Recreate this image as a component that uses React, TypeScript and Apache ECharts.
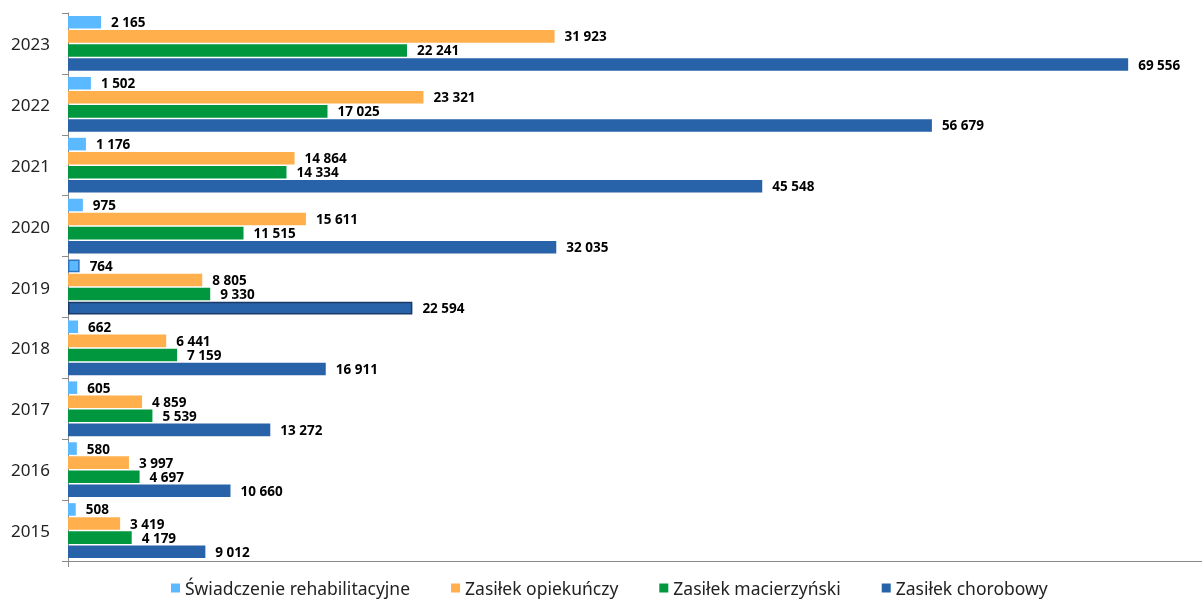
import React, { useEffect, useRef } from "react";
import * as echarts from "echarts";

const years = ["2015", "2016", "2017", "2018", "2019", "2020", "2021", "2022", "2023"];
const rehab = [508, 580, 605, 662, 764, 975, 1176, 1502, 2165];
const opiekunczy = [3419, 3997, 4859, 6441, 8805, 15611, 14864, 23321, 31923];
const macierzynski = [4179, 4697, 5539, 7159, 9330, 11515, 14334, 17025, 22241];
const chorobowy = [9012, 10660, 13272, 16911, 22594, 32035, 45548, 56679, 69556];
const seriesNames = ["Świadczenie rehabilitacyjne", "Zasiłek opiekuńczy", "Zasiłek macierzyński", "Zasiłek chorobowy"];
const colors = ["#5BB9FF", "#FFB04D", "#00973F", "#2862A8"];

const fmt = (v: number) => String(v).replace(/\B(?=(\d{3})+(?!\d))/g, " ");

export default function App() {
  const ref = useRef<HTMLDivElement>(null);
  useEffect(() => {
    if (!ref.current) return;
    const chart = echarts.init(ref.current, undefined, { renderer: "svg" });
    const allData = [rehab, opiekunczy, macierzynski, chorobowy];
    const highlightBorder = ["#2E74C0", null, null, "#1B3B66"];
    chart.setOption({
      animation: false,
      textStyle: { fontFamily: "Noto Sans" },
      grid: { left: 68, right: 0, top: 13, bottom: 38 },
      legend: {
        data: seriesNames,
        left: 171,
        top: 578,
        padding: 0,
        itemWidth: 9,
        itemHeight: 9,
        itemGap: 41,
        icon: "rect",
        textStyle: { fontSize: 17.5, lineHeight: 20, color: "#222", fontFamily: "Noto Sans", padding: [0, 0, 0, 0] },
      },
      xAxis: {
        type: "value",
        min: 0,
        max: 74400,
        splitLine: { show: false },
        axisLabel: { show: false },
        axisLine: { show: true, lineStyle: { color: "#8A8A8A", width: 1 } },
        axisTick: { show: true, customValues: [0], length: 6, lineStyle: { color: "#8A8A8A" } },
      },
      yAxis: {
        type: "category",
        data: years,
        axisLine: { show: true, lineStyle: { color: "#8A8A8A", width: 1 } },
        axisTick: { show: true, length: 6, lineStyle: { color: "#8A8A8A" } },
        axisLabel: { fontSize: 17, color: "#222", margin: 18, fontFamily: "Noto Sans" },
      },
      series: seriesNames.map((name, si) => ({
        name,
        type: "bar",
        barCategoryGap: "10%",
        barGap: "12%",
        itemStyle: { color: colors[si] },
        label: {
          show: true,
          position: "right",
          distance: 10,
          fontSize: 13.5,
          fontWeight: "bold",
          color: "#000",
          fontFamily: "Noto Sans",
          formatter: (p: any) => fmt(p.value),
        },
        data: allData[si].map((v, i) =>
          years[i] === "2019" && highlightBorder[si]
            ? { value: v, itemStyle: { borderColor: highlightBorder[si], borderWidth: 1.5 } }
            : v
        ),
      })),
    });
    return () => chart.dispose();
  }, []);
  return <div ref={ref} style={{ position: "fixed", left: 0, top: 0, width: 1202, height: 599 }} />;
}
